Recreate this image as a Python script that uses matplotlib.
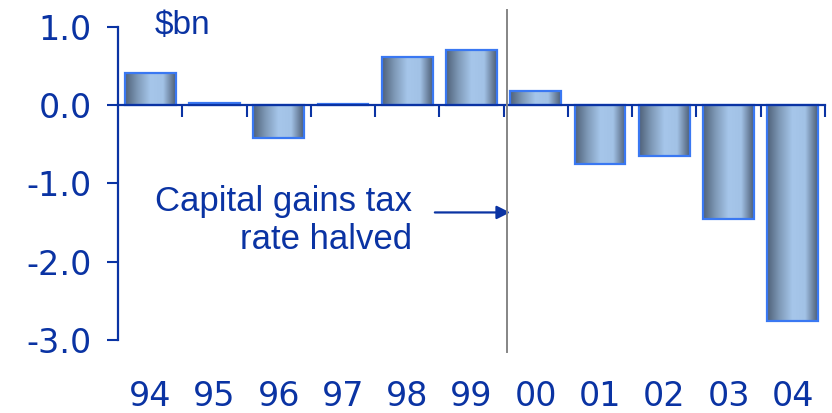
"""Net capital gains revenue by year, with tax-change marker."""

import matplotlib
matplotlib.use("Agg")
import matplotlib.pyplot as plt
from matplotlib.colors import LinearSegmentedColormap
import numpy as np

YEARS = ["94", "95", "96", "97", "98", "99", "00", "01", "02", "03", "04"]
VALUES = [0.41, 0.03, -0.42, 0.02, 0.62, 0.70, 0.18, -0.75, -0.65, -1.45, -2.76]
Y_TICKS = [1.0, 0.0, -1.0, -2.0, -3.0]

TEXT_BLUE = "#0a33a3"
EDGE_BLUE = "#3a78f2"
BAR_CMAP = LinearSegmentedColormap.from_list(
    "bar", ["#4f6178", "#7f9ab8", "#a6c6ea", "#a2c2e6", "#4c5d74"]
)


def main() -> int:
    fig = plt.figure(figsize=(8.32, 4.13), dpi=100)
    ax = fig.add_axes([0.1418, 0.1768, 0.8498, 0.7578])

    x = np.arange(len(YEARS))
    bars = ax.bar(x, VALUES, width=0.79, facecolor="none", edgecolor=EDGE_BLUE,
                  linewidth=1.6, zorder=3)
    grad = np.linspace(0, 1, 256).reshape(1, -1)
    for patch in bars.patches:
        x0, w = patch.get_x(), patch.get_width()
        y0, h = patch.get_y(), patch.get_height()
        img = ax.imshow(grad, cmap=BAR_CMAP, aspect="auto",
                        extent=(x0, x0 + w, min(y0, y0 + h), max(y0, y0 + h)),
                        zorder=2)
        img.set_clip_path(patch)

    ax.set_xlim(-0.5, len(YEARS) - 0.5)
    ax.set_ylim(-3.0, 1.0)

    ax.spines["top"].set_visible(False)
    ax.spines["right"].set_visible(False)
    ax.spines["bottom"].set_position(("data", 0))
    for side in ("left", "bottom"):
        ax.spines[side].set_color(TEXT_BLUE)
        ax.spines[side].set_linewidth(1.6)
        ax.spines[side].set_zorder(4)

    # ticks sit on the category boundaries, labels are drawn below the plot
    ax.set_xticks(x + 0.5)
    ax.set_xticklabels([])
    ax.tick_params(axis="x", direction="out", length=8.5, width=1.5, color=TEXT_BLUE)

    ax.set_yticks(Y_TICKS)
    ax.set_yticklabels([f"{v:.1f}" for v in Y_TICKS])
    ax.tick_params(axis="y", direction="out", length=8, width=1.5, color=TEXT_BLUE,
                   labelcolor=TEXT_BLUE, labelsize=24, pad=11)
    for lab in ax.get_yticklabels():
        lab.set_family("DejaVu Sans")

    for xi, year in zip(x, YEARS):
        ax.text(xi, -0.179, year, transform=ax.get_xaxis_transform(), ha="center",
                va="center", fontsize=24, color=TEXT_BLUE, family="DejaVu Sans")

    # policy change marker
    ax.axvline(5.56, ymin=-0.038, ymax=1.054, color="#858585", linewidth=1.4,
               clip_on=False, zorder=5)
    ax.annotate("", xy=(5.6, -1.37), xytext=(4.43, -1.37),
                arrowprops=dict(arrowstyle="-|>", color=TEXT_BLUE, lw=1.6,
                                mutation_scale=20, shrinkA=0, shrinkB=0))
    ax.text(4.07, -1.47, "Capital gains tax\nrate halved", ha="right", va="center",
            multialignment="right", fontsize=25, color=TEXT_BLUE,
            family="Liberation Sans")

    fig.text(0.186, 0.939, "$bn", ha="left", va="center", fontsize=24,
             color=TEXT_BLUE, family="Liberation Sans")

    fig.savefig("out.png", dpi=100)
    return 0


if __name__ == "__main__":
    raise SystemExit(main())
